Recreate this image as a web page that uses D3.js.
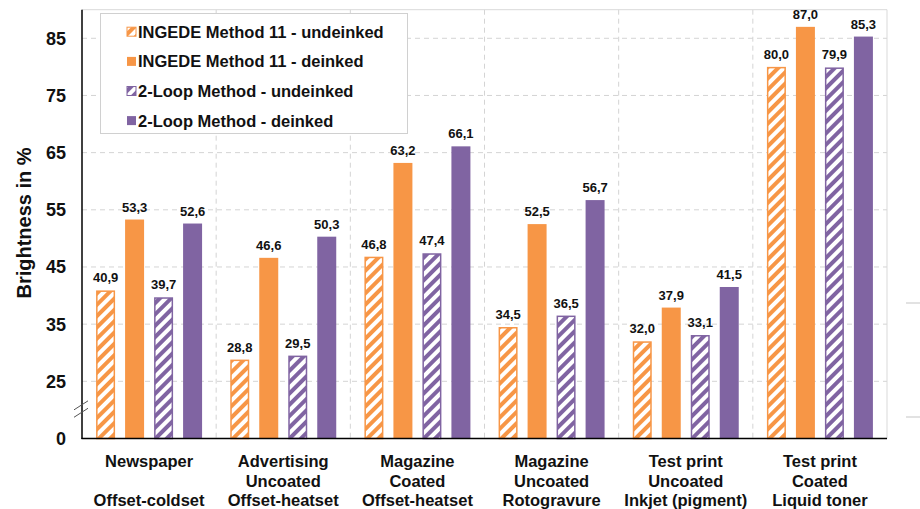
<!DOCTYPE html>
<html>
<head>
<meta charset="utf-8">
<script src="https://cdn.jsdelivr.net/npm/d3@7"></script>
<style>
  html, body { margin: 0; padding: 0; background: #ffffff; }
  svg { display: block; font-family: "Liberation Sans", Arial, Helvetica, sans-serif; }
</style>
</head>
<body>
<svg id="chart" width="920" height="509"></svg>
<script>
// Paper categories, each label split into three lines (blank middle line allowed)
const categoryLines = [
  ["Newspaper", "", "Offset-coldset"],
  ["Advertising", "Uncoated", "Offset-heatset"],
  ["Magazine", "Coated", "Offset-heatset"],
  ["Magazine", "Uncoated", "Rotogravure"],
  ["Test print", "Uncoated", "Inkjet (pigment)"],
  ["Test print", "Coated", "Liquid toner"]
];

const seriesNames = [
  "INGEDE Method 11 - undeinked",
  "INGEDE Method 11 - deinked",
  "2-Loop Method - undeinked",
  "2-Loop Method - deinked"
];

// Brightness in % per category
const ingedeUndeinked = [40.9, 28.8, 46.8, 34.5, 32.0, 80.0];
const ingedeDeinked   = [53.3, 46.6, 63.2, 52.5, 37.9, 87.0];
const loopUndeinked   = [39.7, 29.5, 47.4, 36.5, 33.1, 79.9];
const loopDeinked     = [52.6, 50.3, 66.1, 56.7, 41.5, 85.3];

// Broken value axis: the baseline tick stands for 0, the rest are real values
const axisBreakValue = 15;
const yTickValues = [15, 25, 35, 45, 55, 65, 75, 85];
const yTickLabels = ["0", "25", "35", "45", "55", "65", "75", "85"];

const seriesValues = [ingedeUndeinked, ingedeDeinked, loopUndeinked, loopDeinked];
const seriesColor = ["#F79646", "#F79646", "#8064A2", "#8064A2"];
const seriesHatched = [true, false, true, false];

const svg = d3.select("#chart");
const plot = { left: 82, right: 887, top: 9.7, bottom: 438.5 };

const locale = d3.formatLocale({ decimal: ",", thousands: ".", grouping: [3], currency: ["", "€"] });
const fmt = locale.format(".1f");

// Hatch patterns for the undeinked series
const defs = svg.append("defs");
["#F79646", "#8064A2"].forEach((c, i) => {
  const p = defs.append("pattern")
    .attr("id", "hatch" + i)
    .attr("patternUnits", "userSpaceOnUse")
    .attr("width", 8).attr("height", 8)
    .attr("patternTransform", "rotate(45)");
  p.append("rect").attr("width", 8).attr("height", 8).attr("fill", "#ffffff");
  p.append("rect").attr("width", 4).attr("height", 8).attr("fill", c);
});
const fillFor = i => seriesHatched[i] ? `url(#hatch${seriesColor[i] === "#F79646" ? 0 : 1})` : seriesColor[i];

const x0 = d3.scaleBand()
  .domain(d3.range(categoryLines.length))
  .range([plot.left, plot.right])
  .paddingInner(0).paddingOuter(0);

const groupWidth = x0.bandwidth() * 0.79;
const x1 = d3.scaleBand()
  .domain(d3.range(seriesNames.length))
  .range([(x0.bandwidth() - groupWidth) / 2, (x0.bandwidth() + groupWidth) / 2])
  .paddingInner(0.345).paddingOuter(0);

const y = d3.scaleLinear()
  .domain([axisBreakValue, 90])
  .range([plot.bottom, plot.top]);

// Gridlines
const grid = svg.append("g");
grid.selectAll("line.h")
  .data(yTickValues.filter(v => v !== axisBreakValue))
  .join("line")
  .attr("x1", plot.left).attr("x2", plot.right)
  .attr("y1", d => y(d)).attr("y2", d => y(d))
  .attr("stroke", "#d4d4d4").attr("stroke-width", 1)
  .attr("stroke-dasharray", "5,4");
grid.selectAll("line.v")
  .data(d3.range(1, categoryLines.length))
  .join("line")
  .attr("x1", d => x0(d)).attr("x2", d => x0(d))
  .attr("y1", plot.top).attr("y2", plot.bottom)
  .attr("stroke", "#d4d4d4").attr("stroke-width", 1)
  .attr("stroke-dasharray", "5,4");

// Plot frame: light top and right edges
svg.append("path")
  .attr("d", `M${plot.left},${plot.top}H${plot.right}V${plot.bottom}`)
  .attr("fill", "none").attr("stroke", "#d9d9d9").attr("stroke-width", 1);

// Bars
const groups = svg.append("g").selectAll("g")
  .data(categoryLines.map((_, ci) => ci))
  .join("g")
  .attr("transform", ci => `translate(${x0(ci)},0)`);

groups.each(function (ci) {
  const g = d3.select(this);
  seriesValues.forEach((vals, si) => {
    const v = vals[ci];
    const bx = x1(si), bw = x1.bandwidth();
    if (seriesHatched[si]) {
      g.append("rect")
        .attr("x", bx + 0.75).attr("y", y(v) + 0.75)
        .attr("width", bw - 1.5).attr("height", y(axisBreakValue) - y(v) - 0.75)
        .attr("fill", fillFor(si))
        .attr("stroke", seriesColor[si]).attr("stroke-width", 1.5);
    } else {
      g.append("rect")
        .attr("x", bx).attr("y", y(v))
        .attr("width", bw).attr("height", y(axisBreakValue) - y(v))
        .attr("fill", seriesColor[si]);
    }
    g.append("text")
      .attr("x", bx + bw / 2).attr("y", y(v) - 8)
      .attr("text-anchor", "middle")
      .attr("font-size", 13).attr("font-weight", "bold").attr("fill", "#111")
      .text(fmt(v));
  });
});

// Axes lines
svg.append("line")
  .attr("x1", plot.left).attr("x2", plot.left)
  .attr("y1", plot.top).attr("y2", plot.bottom + 0.5)
  .attr("stroke", "#000").attr("stroke-width", 1.5);
svg.append("line")
  .attr("x1", plot.left - 0.5).attr("x2", plot.right)
  .attr("y1", plot.bottom).attr("y2", plot.bottom)
  .attr("stroke", "#000").attr("stroke-width", 1.5);

// Axis break marks
[19.5, 20.8].forEach(v => {
  svg.append("line")
    .attr("x1", plot.left - 8).attr("y1", y(v) + 4.5)
    .attr("x2", plot.left + 6).attr("y2", y(v) - 4.5)
    .attr("stroke", "#555").attr("stroke-width", 1);
});

// Y tick labels
svg.append("g").selectAll("text")
  .data(yTickValues)
  .join("text")
  .attr("x", 66).attr("y", d => y(d))
  .attr("dy", "0.36em")
  .attr("text-anchor", "end")
  .attr("font-size", 18).attr("font-weight", "bold").attr("fill", "#111")
  .text((d, i) => yTickLabels[i]);

// Y axis title
svg.append("text")
  .attr("transform", "translate(31,223) rotate(-90)")
  .attr("text-anchor", "middle")
  .attr("font-size", 20).attr("font-weight", "bold").attr("fill", "#111")
  .text("Brightness in %");

// Category labels
const lineY = [467, 486.5, 506];
svg.append("g").selectAll("text")
  .data(categoryLines)
  .join("text")
  .attr("text-anchor", "middle")
  .attr("font-size", 16.5).attr("font-weight", "bold").attr("fill", "#111")
  .each(function (lines, ci) {
    const t = d3.select(this);
    lines.forEach((ln, li) => {
      if (ln) t.append("tspan").attr("x", x0(ci) + x0.bandwidth() / 2).attr("y", lineY[li]).text(ln);
    });
  });

// Legend
const legend = svg.append("g");
legend.append("rect")
  .attr("x", 100.5).attr("y", 13.5).attr("width", 307).attr("height", 120)
  .attr("fill", "#ffffff").attr("stroke", "#d0d0d0").attr("stroke-width", 1);
const rowY = [31.7, 61.4, 91, 120.6];
seriesNames.forEach((name, si) => {
  legend.append("rect")
    .attr("x", 127).attr("y", rowY[si] - 4.5)
    .attr("width", 9).attr("height", 9)
    .attr("fill", fillFor(si))
    .attr("stroke", seriesHatched[si] ? seriesColor[si] : "none")
    .attr("stroke-width", 1);
  legend.append("text")
    .attr("x", 138).attr("y", rowY[si])
    .attr("dy", "0.36em")
    .attr("font-size", 16.5).attr("font-weight", "bold").attr("fill", "#111")
    .text(name);
});

// Faint panel edge at the far right
const edge = svg.append("g").attr("stroke", "#e2e2e2").attr("stroke-width", 2);
edge.append("line").attr("x1", 906).attr("x2", 920).attr("y1", 303).attr("y2", 303);
edge.append("line").attr("x1", 906).attr("x2", 920).attr("y1", 417).attr("y2", 417);
</script>
</body>
</html>
